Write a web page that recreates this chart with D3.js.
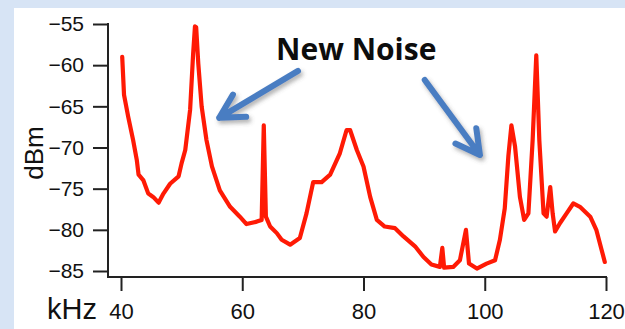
<!DOCTYPE html>
<html>
<head>
<meta charset="utf-8">
<script src="https://cdn.jsdelivr.net/npm/d3@7"></script>
<style>
  body { margin: 0; background: #d7e4f5; }
  svg { display: block; }
</style>
</head>
<body>
<div id="chart"></div>
<script>
// spectrum trace
let freq = [40.2, 40.5, 41.2, 42.0, 42.6, 42.9, 43.7, 44.5, 45.3, 46.2, 47.0, 48.1, 49.5, 50.0, 50.6,
  51.4, 51.9, 52.2, 52.4, 52.75, 53.3, 54.1, 55.0, 56.3, 58.0, 59.6, 60.7, 62.4, 63.2, 63.55, 63.9,
  64.6, 65.7, 66.5, 67.9, 69.5, 70.6, 71.7, 73.1, 74.5, 76.1, 77.2, 77.8, 78.9, 80.0, 81.1, 82.2,
  83.5, 85.2, 86.6, 88.5, 89.9, 91.2, 92.6, 93.0, 93.3, 94.8, 95.9, 96.9, 97.4, 98.7, 100.3, 101.7,
  102.5, 103.3, 103.9, 104.4, 105.0, 105.8, 106.5, 107.2, 107.9, 108.5, 109.0, 109.7, 110.2, 110.8,
  111.2, 111.6, 112.4, 113.5, 114.6, 115.7, 117.4, 118.4, 119.3, 119.8];
let dbm = [-59.0, -63.6, -66.3, -69.1, -71.5, -73.3, -74.0, -75.6, -76.0, -76.7, -75.6, -74.4, -73.5, -71.9, -70.3,
  -65.4, -58.6, -55.3, -55.4, -59.8, -65.0, -69.1, -72.3, -75.2, -77.2, -78.4, -79.3, -79.0, -78.8, -67.3, -78.4,
  -79.6, -80.4, -81.2, -81.8, -81.0, -78.0, -74.2, -74.2, -73.3, -70.7, -67.9, -67.9, -70.3, -72.3, -76.0, -78.8,
  -79.6, -79.8, -80.8, -82.0, -83.3, -84.2, -84.5, -82.2, -84.6, -84.5, -83.7, -80.0, -84.1, -84.7, -84.1, -83.7,
  -81.2, -77.4, -71.0, -67.3, -69.9, -76.0, -78.8, -78.0, -69.1, -58.8, -69.1, -78.0, -78.4, -74.8,
  -78.0, -80.2, -79.2, -78.0, -76.8, -77.2, -78.4, -80.0, -82.5, -83.9];

let xTicks = [40, 60, 80, 100, 120];
let yTicks = [-55, -60, -65, -70, -75, -80, -85];

// annotation arrows, in data units [kHz, dBm]
let arrows = [
  { from: [69.2, -60.7], to: [56.2, -66.4] },
  { from: [90.1, -61.8], to: [99.2, -70.9] }
];
let noteText = "New Noise";

let W = 625, H = 329;

let x = d3.scaleLinear().domain([40, 120]).range([121, 606]);
let y = d3.scaleLinear().domain([-55, -85]).range([24, 271]);
let axisY = y(-85) + 6;
let axisX = x(40) - 13;

let svg = d3.select("#chart").append("svg")
  .attr("width", W)
  .attr("height", H);

let defs = svg.append("defs");
let shadow = defs.append("filter").attr("id", "shadow")
  .attr("x", "-30%").attr("y", "-30%").attr("width", "160%").attr("height", "160%");
shadow.append("feDropShadow")
  .attr("dx", 2).attr("dy", 3).attr("stdDeviation", 2)
  .attr("flood-color", "#555").attr("flood-opacity", 0.45);

svg.append("rect")
  .attr("width", W).attr("height", H)
  .attr("fill", "#d7e4f5");
svg.append("rect")
  .attr("x", 14).attr("y", 8)
  .attr("width", W - 14).attr("height", H - 8)
  .attr("fill", "#ffffff");

// axes
let yAxis = d3.axisLeft(y).tickValues(yTicks).tickSize(15).tickPadding(9).tickSizeOuter(0);
let gy = svg.append("g")
  .attr("transform", "translate(" + axisX + ",0)")
  .call(yAxis);
gy.select(".domain").remove();
gy.selectAll("line").attr("stroke", "#222").attr("stroke-width", 2);
gy.selectAll("text")
  .attr("fill", "#111")
  .style("font-family", "'Liberation Sans', Arial, sans-serif")
  .style("font-size", "21px");

let xAxis = d3.axisBottom(x).tickValues(xTicks).tickSize(14).tickPadding(12).tickSizeOuter(0);
let gx = svg.append("g")
  .attr("transform", "translate(0," + axisY + ")")
  .call(xAxis);
gx.select(".domain").remove();
gx.selectAll("line").attr("stroke", "#222").attr("stroke-width", 2);
gx.selectAll("text")
  .attr("fill", "#111")
  .style("font-family", "'Liberation Sans', Arial, sans-serif")
  .style("font-size", "22px");

svg.append("line")
  .attr("x1", axisX).attr("x2", axisX)
  .attr("y1", y(-55) - 1).attr("y2", axisY)
  .attr("stroke", "#222").attr("stroke-width", 2);
svg.append("line")
  .attr("x1", axisX - 1).attr("x2", x(120) + 1)
  .attr("y1", axisY).attr("y2", axisY)
  .attr("stroke", "#222").attr("stroke-width", 2);

svg.append("text")
  .attr("x", 47).attr("y", 319)
  .attr("fill", "#111")
  .style("font-family", "'Liberation Sans', Arial, sans-serif")
  .style("font-size", "29px")
  .text("kHz");

svg.append("text")
  .attr("transform", "translate(43,153) rotate(-90)")
  .attr("text-anchor", "middle")
  .attr("fill", "#111")
  .style("font-family", "'Liberation Sans', Arial, sans-serif")
  .style("font-size", "26px")
  .text("dBm");

// trace
let line = d3.line()
  .x((d, i) => x(freq[i]))
  .y(d => y(d));

svg.append("path")
  .attr("d", line(dbm))
  .attr("fill", "none")
  .attr("stroke", "#ff1a05")
  .attr("stroke-width", 4.2)
  .attr("stroke-linejoin", "round")
  .attr("stroke-linecap", "round");

// annotation
svg.append("text")
  .attr("x", x(78.8)).attr("y", y(-59.4))
  .attr("text-anchor", "middle")
  .attr("fill", "#0d0d0d")
  .style("font-family", "'Open Sans', sans-serif")
  .style("font-weight", "bold")
  .style("font-size", "30px")
  .text(noteText);

let arrowG = svg.append("g").attr("filter", "url(#shadow)");
arrows.forEach(a => {
  let x1 = x(a.from[0]), y1 = y(a.from[1]);
  let x2 = x(a.to[0]), y2 = y(a.to[1]);
  let ang = Math.atan2(y2 - y1, x2 - x1);
  let len = 27, spread = 0.5;
  let p = d3.path();
  p.moveTo(x1, y1);
  p.lineTo(x2, y2);
  p.moveTo(x2 - len * Math.cos(ang - spread), y2 - len * Math.sin(ang - spread));
  p.lineTo(x2, y2);
  p.lineTo(x2 - len * Math.cos(ang + spread), y2 - len * Math.sin(ang + spread));
  arrowG.append("path")
    .attr("d", p.toString())
    .attr("fill", "none")
    .attr("stroke", "#4a7dc2")
    .attr("stroke-width", 6)
    .attr("stroke-linecap", "round")
    .attr("stroke-linejoin", "round");
});
</script>
</body>
</html>
